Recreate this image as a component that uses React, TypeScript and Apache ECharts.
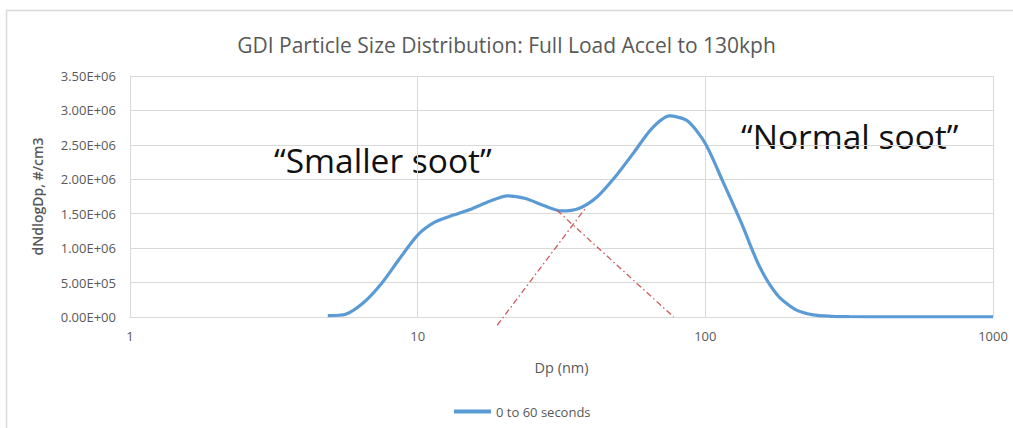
import React, { useEffect, useRef } from "react";
import * as echarts from "echarts";

const title = "GDI Particle Size Distribution: Full Load Accel to 130kph";
const seriesName = "0 to 60 seconds";
const diameters = [4.87, 5.62, 6.49, 7.5, 8.66, 10, 11.5, 13.3, 15.4, 17.8, 20.5, 23.7, 27.4, 31.6, 36.5, 42.2, 48.7, 56.2, 64.9, 75.0, 86.6, 100, 115, 133, 154, 178, 205, 237, 274, 316, 365, 422, 487, 562, 649, 750, 866, 1000];
const counts = [0.02e6, 0.04e6, 0.21e6, 0.49e6, 0.85e6, 1.19e6, 1.38e6, 1.48e6, 1.57e6, 1.68e6, 1.76e6, 1.72e6, 1.62e6, 1.54e6, 1.58e6, 1.75e6, 2.04e6, 2.38e6, 2.73e6, 2.92e6, 2.85e6, 2.52e6, 1.97e6, 1.38e6, 0.74e6, 0.32e6, 0.11e6, 0.03e6, 0.01e6, 0.005e6, 0.003e6, 0.002e6, 0.001e6, 0.001e6, 0.001e6, 0.001e6, 0.001e6, 0.001e6];
const smallerSootLine = [[18.9, -0.12e6], [38.3, 1.58e6]];
const normalSootLine = [[30.5, 1.55e6], [77.6, 0]];
const xAxisName = "Dp (nm)";
const yAxisName = "dNdlogDp, #/cm3";

const FONT = "'Open Sans', sans-serif";

function sci(v: number): string {
  if (v === 0) return "0.00E+00";
  const exp = Math.floor(Math.log10(Math.abs(v)) + 1e-9);
  const mant = v / Math.pow(10, exp);
  const sign = exp < 0 ? "-" : "+";
  const e = Math.abs(exp).toString().padStart(2, "0");
  return mant.toFixed(2) + "E" + sign + e;
}

export default function App() {
  const ref = useRef<HTMLDivElement>(null);
  useEffect(() => {
    if (!ref.current) return;
    const chart = echarts.init(ref.current, null, { renderer: "svg" });
    const mainData = diameters.map((d, i) => [d, counts[i]]);
    chart.setOption({
      animation: false,
      backgroundColor: "#ffffff",
      title: {
        text: title,
        left: "center",
        top: 29,
        textStyle: { fontFamily: FONT, fontSize: 21, fontWeight: "normal", color: "#595959" },
      },
      grid: { left: 130, right: 20, top: 76, bottom: 111 },
      legend: {
        data: [seriesName],
        left: 449,
        top: 400,
        icon: "rect",
        itemWidth: 37,
        itemHeight: 4,
        itemGap: 4,
        textStyle: { fontFamily: FONT, fontSize: 13, color: "#595959" },
      },
      xAxis: {
        type: "log",
        logBase: 10,
        min: 1,
        max: 1000,
        name: xAxisName,
        nameLocation: "middle",
        nameGap: 43,
        nameTextStyle: { fontFamily: FONT, fontSize: 14.5, color: "#595959" },
        axisLine: { show: true, lineStyle: { color: "#d9d9d9" } },
        axisTick: { show: false },
        axisLabel: { fontFamily: FONT, fontSize: 13, color: "#595959", margin: 12, formatter: (v: number) => String(Math.round(v)) },
        splitLine: { show: true, lineStyle: { color: "#d9d9d9", width: 1 } },
      },
      yAxis: {
        type: "value",
        min: 0,
        max: 3.5e6,
        interval: 0.5e6,
        name: yAxisName,
        nameLocation: "middle",
        nameGap: 86,
        nameTextStyle: { fontFamily: FONT, fontSize: 14, color: "#595959", fontWeight: 600 },
        axisLine: { show: true, lineStyle: { color: "#d9d9d9" } },
        axisTick: { show: false },
        axisLabel: { fontFamily: FONT, fontSize: 13, color: "#595959", margin: 14, formatter: (v: number) => sci(v) },
        splitLine: { show: true, lineStyle: { color: "#d9d9d9", width: 1 } },
      },
      series: [
        {
          name: seriesName,
          type: "line",
          data: mainData,
          smooth: 0.25,
          showSymbol: false,
          symbol: "none",
          lineStyle: { color: "#5b9bd5", width: 3.2 },
          itemStyle: { color: "#5b9bd5" },
        },
        {
          name: "smallerSootEdge",
          type: "line",
          data: smallerSootLine,
          clip: false,
          showSymbol: false,
          symbol: "none",
          lineStyle: { color: "#cc5a5a", width: 1.3, type: [6, 3, 1.5, 3] },
        },
        {
          name: "normalSootEdge",
          type: "line",
          data: normalSootLine,
          clip: false,
          showSymbol: false,
          symbol: "none",
          lineStyle: { color: "#cc5a5a", width: 1.3, type: [6, 3, 1.5, 3] },
        },
      ],
      graphic: [
        {
          type: "rect",
          silent: true,
          shape: { x: 6.5, y: 10.5, width: 1030, height: 440 },
          style: { fill: "none", stroke: "#d9d9d9", lineWidth: 1.5 },
        },
        {
          type: "text",
          left: 274,
          top: 143,
          style: { text: "\u201cSmaller soot\u201d", fontFamily: FONT, fontSize: 33.5, fill: "#111111" },
        },
        {
          type: "text",
          left: 741,
          top: 119,
          style: { text: "\u201cNormal soot\u201d", fontFamily: FONT, fontSize: 33.5, fill: "#111111" },
        },
      ],
    });
    return () => chart.dispose();
  }, []);
  return <div ref={ref} style={{ position: "fixed", left: 0, top: 0, width: 1013, height: 428 }} />;
}
